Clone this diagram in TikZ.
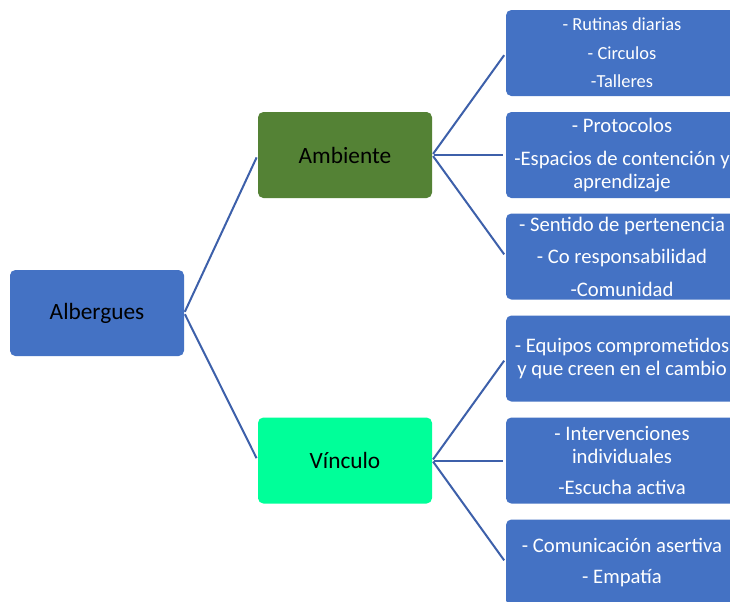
\documentclass[tikz,border=0pt]{standalone}
\usepackage{fontspec}
\setmainfont{Carlito}
\definecolor{boxblue}{HTML}{4472C4}
\definecolor{boxgreen}{HTML}{548235}
\definecolor{boxmint}{HTML}{00FF99}
\definecolor{linkblue}{RGB}{61,96,170}
\tikzset{
  mainbox/.style={rectangle, rounded corners=4pt, minimum width=130.5pt, minimum height=64.5pt, inner sep=0pt, align=center, text=black, font=\fontsize{17.5}{21}\selectfont},
  leafbox/.style={rectangle, rounded corners=4pt, fill=boxblue, minimum width=174pt, minimum height=64.5pt, inner sep=0pt, align=center, text=white, font=\fontsize{15.5}{17.25}\selectfont},
  link/.style={draw=linkblue, line width=1.5pt, shorten <=1pt, shorten >=2pt}
}
\begin{document}
\begin{tikzpicture}[x=0.75pt,y=-0.75pt]
\useasboundingbox (0,0) rectangle (730,601);
\clip (0,0) rectangle (730,601);
\fill[white] (0,0) rectangle (730,601);
\node[mainbox, fill=boxblue] (alb) at (97,313) {Albergues};
\node[mainbox, fill=boxgreen] (amb) at (345,155) {Ambiente};
\node[mainbox, fill=boxmint] (vin) at (345,460.5) {Vínculo};
\node[leafbox, font=\fontsize{13.8}{16}\selectfont] (r1) at (622,53) {- Rutinas diarias\\[5.4pt] - Circulos\\[5.4pt] -Talleres};
\node[leafbox] (r2) at (622,155) {- Protocolos\\[7.5pt] -Espacios de contención y\\ aprendizaje};
\node[leafbox] (r3) at (622,256.5) {- Sentido de pertenencia\\[7.1pt] - Co responsabilidad\\[7.1pt] -Comunidad};
\node[leafbox] (r4) at (622,358.5) {- Equipos comprometidos\\ y que creen en el cambio};
\node[leafbox] (r5) at (622,460.5) {- Intervenciones\\ individuales\\[6pt] -Escucha activa};
\node[leafbox] (r6) at (622,562.5) {- Comunicación asertiva\\[6pt] - Empatía};
\draw[link] (alb.east) -- (amb.west);
\draw[link] (alb.east) -- (vin.west);
\foreach \r in {r1,r2,r3} \draw[link] (amb.east) -- (\r.west);
\foreach \r in {r4,r5,r6} \draw[link] (vin.east) -- (\r.west);
\end{tikzpicture}
\end{document}
